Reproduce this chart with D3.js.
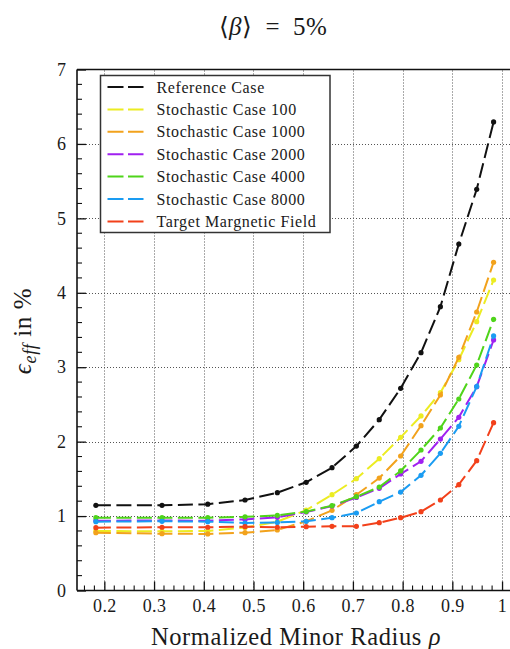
<!DOCTYPE html>
<html>
<head>
<meta charset="utf-8">
<script src="https://cdn.jsdelivr.net/npm/d3@7"></script>
<style>
  html, body { margin: 0; padding: 0; background: #fff; }
  svg { display: block; }
  svg text { font-family: 'Liberation Serif', 'Times New Roman', serif !important; fill: #1a1a1a; }
</style>
</head>
<body>
<svg id="chart" width="510" height="649"></svg>
<script>
// Normalized minor radius of each flux surface
const rho = [0.183, 0.316, 0.408, 0.483, 0.548, 0.606, 0.658, 0.707, 0.753, 0.796, 0.837, 0.876, 0.913, 0.949, 0.983];

// Effective ripple (%) per case
const referenceCase = [1.145, 1.145, 1.16, 1.216, 1.314, 1.454, 1.65, 1.94, 2.295, 2.717, 3.195, 3.813, 4.655, 5.39, 6.295];
const stochastic100 = [0.80, 0.795, 0.80, 0.845, 0.925, 1.08, 1.287, 1.502, 1.771, 2.058, 2.345, 2.658, 3.10, 3.612, 4.172];
const stochastic1000 = [0.777, 0.763, 0.76, 0.777, 0.813, 0.93, 1.077, 1.287, 1.511, 1.807, 2.215, 2.627, 3.133, 3.742, 4.41];
const stochastic2000 = [0.938, 0.94, 0.938, 0.955, 0.983, 1.055, 1.135, 1.25, 1.373, 1.565, 1.736, 2.035, 2.327, 2.738, 3.366];
const stochastic4000 = [0.978, 0.978, 0.978, 0.99, 1.01, 1.06, 1.14, 1.26, 1.39, 1.606, 1.888, 2.183, 2.573, 3.03, 3.644];
const stochastic8000 = [0.925, 0.93, 0.925, 0.907, 0.915, 0.93, 0.978, 1.041, 1.193, 1.323, 1.548, 1.843, 2.206, 2.74, 3.42];
const targetField = [0.844, 0.85, 0.85, 0.857, 0.85, 0.857, 0.862, 0.862, 0.911, 0.978, 1.059, 1.216, 1.422, 1.744, 2.255];

const seriesNames = ["Reference Case", "Stochastic Case 100", "Stochastic Case 1000", "Stochastic Case 2000",
                     "Stochastic Case 4000", "Stochastic Case 8000", "Target Margnetic Field"];
const seriesValues = [referenceCase, stochastic100, stochastic1000, stochastic2000, stochastic4000, stochastic8000, targetField];
const seriesColors = ["#111111", "#ecec22", "#f2a21c", "#a020f0", "#4fd41a", "#1a9cf2", "#f2401a"];

const xTicks = [0.2, 0.3, 0.4, 0.5, 0.6, 0.7, 0.8, 0.9, 1.0];
const yTicks = [0, 1, 2, 3, 4, 5, 6, 7];

const SERIF = "'Liberation Serif', 'Times New Roman', serif";
const svg = d3.select("#chart").attr("font-family", SERIF);
const margin = { left: 77, top: 69.5, right: 0, bottom: 58.5 };
const W = 510, H = 649;
const x = d3.scaleLinear().domain([0.145, 1.016]).range([margin.left, W - margin.right]);
const y = d3.scaleLinear().domain([0, 7]).range([H - margin.bottom, margin.top]);

// grid
const grid = svg.append("g").attr("stroke", "#555").attr("stroke-width", 1).attr("stroke-dasharray", "1,2");
grid.selectAll("line.gx").data(xTicks).join("line")
  .attr("x1", d => Math.round(x(d)) + 0.5).attr("x2", d => Math.round(x(d)) + 0.5)
  .attr("y1", y(0)).attr("y2", y(7));
grid.selectAll("line.gy").data(yTicks.slice(1, -1)).join("line")
  .attr("x1", x.range()[0]).attr("x2", x.range()[1])
  .attr("y1", d => Math.round(y(d)) + 0.5).attr("y2", d => Math.round(y(d)) + 0.5);

// minor ticks
const xMinor = d3.range(0.16, 1.015, 0.02).filter(v => Math.abs(v * 10 - Math.round(v * 10)) > 1e-6);
const yMinor = d3.range(0.2, 7, 0.2).filter(v => Math.abs(v - Math.round(v)) > 1e-6);

// axes with inward ticks
const xAxis = d3.axisBottom(x).tickValues(xTicks).tickSize(-9).tickPadding(20)
  .tickFormat(d => d === 1 ? "1" : d3.format(".1f")(d));
const gx = svg.append("g").attr("transform", `translate(0,${y(0)})`).call(xAxis).attr("font-family", SERIF);
gx.selectAll("line").attr("stroke", "#111").attr("stroke-width", 1.3);
gx.select(".domain").attr("stroke", "#111").attr("stroke-width", 1.6).attr("d", `M${x.range()[0]},0H${x.range()[1]}`);
gx.selectAll("text").attr("font-size", 18).attr("fill", "#222").attr("dy", "0.32em").attr("y", 16)
  .attr("letter-spacing", 0.4);
svg.append("g").selectAll("line").data(xMinor).join("line")
  .attr("x1", d => x(d)).attr("x2", d => x(d)).attr("y1", y(0)).attr("y2", y(0) - 5)
  .attr("stroke", "#111").attr("stroke-width", 1.1);

const yAxis = d3.axisLeft(y).tickValues(yTicks).tickSize(-9).tickPadding(14).tickFormat(d3.format("d"));
const gy = svg.append("g").attr("transform", `translate(${x.range()[0]},0)`).call(yAxis).attr("font-family", SERIF);
gy.selectAll("line").attr("stroke", "#111").attr("stroke-width", 1.3);
gy.select(".domain").attr("stroke", "#111").attr("stroke-width", 1.6).attr("d", `M0,${y(0)}V${y(7)}`);
gy.selectAll("text").attr("font-size", 18).attr("fill", "#222").attr("x", -11).attr("text-anchor", "end");
svg.append("g").selectAll("line").data(yMinor).join("line")
  .attr("x1", x.range()[0]).attr("x2", x.range()[0] + 5).attr("y1", d => y(d)).attr("y2", d => y(d))
  .attr("stroke", "#111").attr("stroke-width", 1.1);

// top frame
svg.append("line").attr("x1", x.range()[0]).attr("x2", x.range()[1]).attr("y1", y(7)).attr("y2", y(7))
  .attr("stroke", "#111").attr("stroke-width", 1.6);

// series
const line = d3.line().x((d, i) => x(rho[i])).y(d => y(d));
const plot = svg.append("g");
seriesValues.forEach((vals, k) => {
  plot.append("path").datum(vals)
    .attr("d", line).attr("fill", "none").attr("stroke", seriesColors[k])
    .attr("stroke-width", 2).attr("stroke-dasharray", "15,5.5");
  plot.append("g").selectAll("circle").data(vals).join("circle")
    .attr("cx", (d, i) => x(rho[i])).attr("cy", d => y(d)).attr("r", 2.6)
    .attr("fill", seriesColors[k]);
});

// legend
const lg = svg.append("g").attr("transform", "translate(100.5,75.5)");
lg.append("rect").attr("width", 229.5).attr("height", 157).attr("fill", "#fff")
  .attr("stroke", "#333").attr("stroke-width", 1.5);
seriesNames.forEach((name, k) => {
  const cy = 11.5 + k * 22.4;
  lg.append("line").attr("x1", 7).attr("x2", 43).attr("y1", cy).attr("y2", cy)
    .attr("stroke", seriesColors[k]).attr("stroke-width", 2).attr("stroke-dasharray", "16,4.5");
  lg.append("text").attr("x", 56).attr("y", cy).attr("dy", "0.35em")
    .attr("font-size", 16).attr("letter-spacing", 0.6).attr("fill", "#222").text(name);
});

// title
const title = svg.append("text").attr("x", 273).attr("y", 35).attr("text-anchor", "middle")
  .attr("font-size", 25).attr("letter-spacing", 0.5);
title.append("tspan").text("⟨");
title.append("tspan").attr("font-style", "italic").text("β");
title.append("tspan").text("⟩\u2002=\u20025%");

// axis titles
svg.append("text").attr("x", 296).attr("y", 645).attr("text-anchor", "middle")
  .attr("font-size", 24.5).attr("letter-spacing", 0.6)
  .text("Normalized Minor Radius ")
  .append("tspan").attr("font-style", "italic").text("ρ");

const yl = svg.append("text").attr("transform", "translate(31,331) rotate(-90)")
  .attr("text-anchor", "middle").attr("font-size", 25).attr("letter-spacing", 0.6);
yl.append("tspan").attr("font-style", "italic").text("ϵ");
yl.append("tspan").attr("font-style", "italic").attr("font-size", 18).attr("dy", 5).text("eff");
yl.append("tspan").attr("dy", -5).text(" in %");
</script>
</body>
</html>
